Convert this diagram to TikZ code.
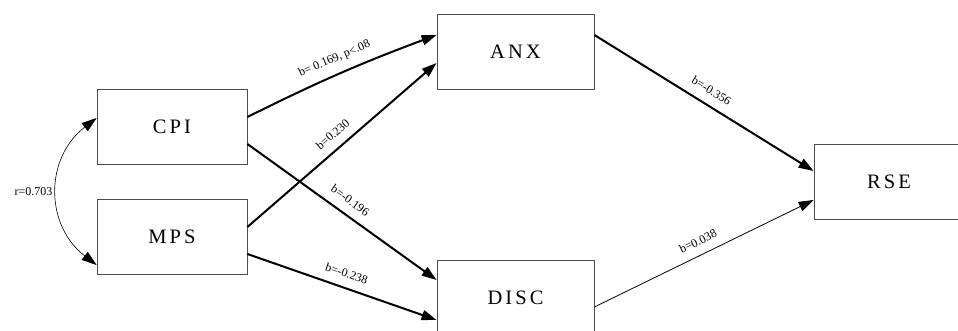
\documentclass[tikz,border=0pt]{standalone}
\usepackage{fontspec}
\setmainfont{Liberation Serif}
\newfontfamily\boxfont[LetterSpace=15]{Liberation Serif}
\usetikzlibrary{arrows.meta}
\tikzset{varbox/.style={draw=black!70,line width=0.8pt,minimum width=150pt,minimum height=75pt,inner sep=0pt,font=\boxfont\fontsize{20.5}{24}\selectfont}}
\tikzset{effect/.style={line width=2pt,-{Triangle[length=15pt,width=10pt]}}}
\tikzset{weak/.style={line width=0.8pt,-{Triangle[length=15pt,width=10pt]}}}
\tikzset{coef/.style={sloped,above=9pt,inner sep=0pt,font=\fontsize{12}{14}\selectfont}}

\begin{document}
\begin{tikzpicture}[x=1pt,y=1pt]
\useasboundingbox (0,0) rectangle (958,331);
\clip (0,0) rectangle (958,331);

 \node[varbox] (cpi) at (172,204) {CPI};
 \node[varbox] (mps) at (172,94.5) {MPS};
 \node[varbox,minimum width=157pt] (anx) at (515.5,279.5) {ANX};
 \node[varbox,minimum width=157pt,minimum height=76pt] (disc) at (515.5,33) {DISC};
 \node[varbox] (rse) at (889,149.5) {RSE};

\draw [effect] ([yshift=10pt]cpi.east) to[bend left=3] node[coef] {b= 0.169, p<.08} ([yshift=16.5pt]anx.west);
\draw [effect] ([yshift=9.5pt]mps.east) -- node[coef] {b=0.230} ([yshift=-11.5pt]anx.west);

\draw [effect] ([yshift=-17pt]cpi.east) -- node[coef] {b=-0.196} ([yshift=18pt]disc.west);
\draw [effect] ([yshift=-17.5pt]mps.east) -- node[coef] {b=-0.238} ([yshift=-22pt]disc.west);

\draw [effect] ([yshift=16.5pt]anx.east) -- node[coef] {b=-0.356} ([yshift=10.5pt]rse.west);
\draw [weak] ([yshift=-9pt]disc.east) -- node[coef] {b=0.038} ([yshift=-18.5pt]rse.west);

\draw [line width=0.6pt,{Triangle[length=15pt,width=10pt]}-{Triangle[length=15pt,width=10pt]}] ([yshift=9pt]cpi.west) .. controls +(-52,-40) and +(-52,40) .. node[pos=0.5,left=5pt,inner sep=0pt,font=\fontsize{12}{14}\selectfont] (corr) {r=0.703} ([yshift=-28.5pt]mps.west);
\end{tikzpicture}
\end{document}
